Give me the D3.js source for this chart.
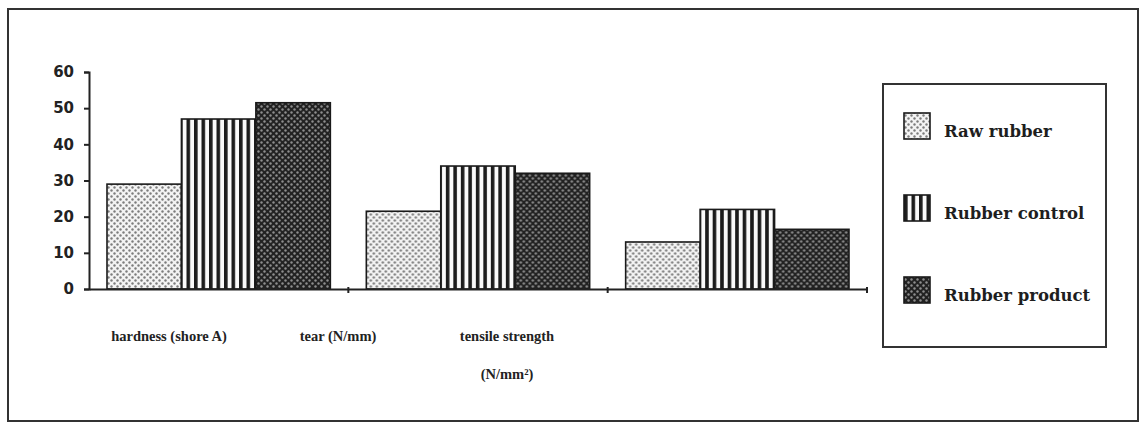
<!DOCTYPE html>
<html>
<head>
    <meta charset="utf-8">
    <title>Rubber properties</title>
    <style>
        body { margin: 0; background: #fff; }
        svg { display: block; }
        .tick-label { font-family: 'DejaVu Sans', sans-serif; font-weight: bold; font-size: 15px; fill: #222; }
        .cat-label { font-family: 'Liberation Serif', serif; font-weight: bold; font-size: 14.5px; fill: #222; }
        .legend-label { font-family: 'DejaVu Serif', serif; font-weight: bold; font-size: 16.5px; fill: #1e1e1e; }
        .frame { fill: none; stroke: #333; stroke-width: 2px; }
    </style>
</head>
<body>
<script src="https://d3js.org/d3.v7.min.js"></script>
<script type="text/javascript">

// categories and series
var categories = ["hardness", "tear", "tensile"];
var categoryLabels = [["hardness (shore A)"], ["tear (N/mm)"], ["tensile strength", "(N/mm\u00B2)"]];
var series = ["Raw rubber", "Rubber control", "Rubber product"];

// values
var rawRubber     = [29, 21.5, 13];
var rubberControl = [47, 34, 22];
var rubberProduct = [51.5, 32, 16.5];

var yTicks = [0, 10, 20, 30, 40, 50, 60];

var W = 1144, H = 424;

var svg = d3.select("body").append("svg")
    .attr("width", W)
    .attr("height", H);

// fill patterns
var defs = svg.append("defs");

var pRaw = defs.append("pattern").attr("id", "p0")
    .attr("patternUnits", "userSpaceOnUse").attr("width", 6).attr("height", 6);
pRaw.append("rect").attr("width", 6).attr("height", 6).attr("fill", "#f3f3f3");
pRaw.append("circle").attr("cx", 1.5).attr("cy", 1.5).attr("r", 1.2).attr("fill", "#7c7c7c");
pRaw.append("circle").attr("cx", 4.5).attr("cy", 4.5).attr("r", 1.2).attr("fill", "#7c7c7c");

var pCtl = defs.append("pattern").attr("id", "p1")
    .attr("patternUnits", "userSpaceOnUse").attr("width", 7.5).attr("height", 10);
pCtl.append("rect").attr("width", 7.5).attr("height", 10).attr("fill", "#fafafa");
pCtl.append("rect").attr("width", 3.6).attr("height", 10).attr("fill", "#1c1c1c");

var pProd = defs.append("pattern").attr("id", "p2")
    .attr("patternUnits", "userSpaceOnUse").attr("width", 6).attr("height", 6);
pProd.append("rect").attr("width", 6).attr("height", 6).attr("fill", "#222");
pProd.append("circle").attr("cx", 1.5).attr("cy", 1.5).attr("r", 1.2).attr("fill", "#8e8e8e");
pProd.append("circle").attr("cx", 4.5).attr("cy", 4.5).attr("r", 1.2).attr("fill", "#8e8e8e");

var fills = ["url(#p0)", "url(#p1)", "url(#p2)"];

// outer frame
svg.append("rect").attr("class", "frame")
    .attr("x", 8).attr("y", 9).attr("width", 1130).attr("height", 412);

// scales
var x = d3.scaleBand().domain(categories).range([89, 867]).padding(0);
var xSub = d3.scaleBand().domain(series).range([18, x.bandwidth() - 18]).padding(0);
var y = d3.scaleLinear().domain([0, 60]).range([289, 72]);
var labelX = d3.scalePoint().domain(categories).range([169, 507]);

var table = categories.map(function(c, i) {
    return {cat: c, values: [rawRubber[i], rubberControl[i], rubberProduct[i]]};
});

// bars
var groups = svg.append("g").selectAll("g")
    .data(table)
    .join("g")
    .attr("transform", function(d) { return "translate(" + x(d.cat) + ",0)"; });

groups.selectAll("rect")
    .data(function(d) { return d.values.map(function(v, j) { return {s: series[j], v: v, j: j}; }); })
    .join("rect")
    .attr("x", function(d) { return xSub(d.s); })
    .attr("y", function(d) { return y(d.v); })
    .attr("width", xSub.bandwidth())
    .attr("height", function(d) { return y(0) - y(d.v); })
    .attr("fill", function(d) { return fills[d.j]; })
    .attr("stroke", "#1a1a1a")
    .attr("stroke-width", 1.6);

// y axis
var yAxis = svg.append("g")
    .attr("transform", "translate(89,0)")
    .call(d3.axisLeft(y).tickValues(yTicks).tickSize(5).tickPadding(10).tickFormat(d3.format("d")));
yAxis.select(".domain").attr("stroke", "#222").attr("stroke-width", 2);
yAxis.selectAll(".tick line").attr("stroke", "#222").attr("stroke-width", 2);
yAxis.selectAll(".tick text").attr("class", "tick-label").attr("font-family", null).attr("font-size", null);

// x axis
var xAxis = svg.append("g")
    .attr("transform", "translate(0," + y(0) + ")")
    .call(d3.axisBottom(x).tickValues([]).tickSizeOuter(0));
xAxis.select(".domain").attr("stroke", "#222").attr("stroke-width", 2);
xAxis.selectAll(".sep")
    .data(categories.slice(1).concat(["end"]))
    .join("line")
    .attr("class", "sep")
    .attr("x1", function(d) { return d === "end" ? x.range()[1] : x(d); })
    .attr("x2", function(d) { return d === "end" ? x.range()[1] : x(d); })
    .attr("y1", -2).attr("y2", 4)
    .attr("stroke", "#222").attr("stroke-width", 2);

// category labels
var cl = svg.append("g").selectAll("text")
    .data(categories)
    .join("text")
    .attr("class", "cat-label")
    .attr("text-anchor", "middle")
    .attr("x", function(d) { return labelX(d); })
    .attr("y", 341);
cl.selectAll("tspan")
    .data(function(d, i) { return categoryLabels[i]; })
    .join("tspan")
    .attr("x", function() { return this.parentNode.getAttribute("x"); })
    .attr("dy", function(d, i) { return i === 0 ? 0 : 38; })
    .text(function(d) { return d; });

// legend
svg.append("rect").attr("class", "frame")
    .attr("x", 883).attr("y", 84).attr("width", 223).attr("height", 263);

var legY = d3.scalePoint().domain(series).range([126, 290]);

var leg = svg.append("g").selectAll("g")
    .data(series)
    .join("g")
    .attr("transform", function(d) { return "translate(904," + legY(d) + ")"; });
leg.append("rect")
    .attr("x", 0).attr("y", -13).attr("width", 26).attr("height", 26)
    .attr("fill", function(d, i) { return fills[i]; })
    .attr("stroke", "#1a1a1a").attr("stroke-width", 1.6);
leg.append("text")
    .attr("class", "legend-label")
    .attr("x", 40).attr("y", 11)
    .text(function(d) { return d; });

</script>
</body>
</html>
